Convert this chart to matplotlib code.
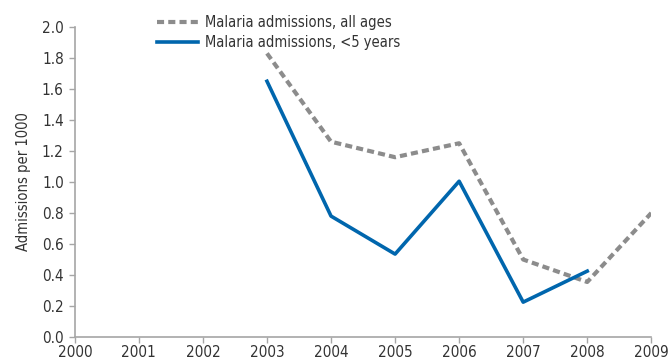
import matplotlib
matplotlib.use("Agg")
import matplotlib.pyplot as plt

years = [2000, 2001, 2002, 2003, 2004, 2005, 2006, 2007, 2008, 2009]
all_years = [2003, 2004, 2005, 2006, 2007, 2008, 2009]
all_ages = [1.83, 1.26, 1.16, 1.25, 0.50, 0.355, 0.80]
u5_years = [2003, 2004, 2005, 2006, 2007, 2008]
under5 = [1.65, 0.78, 0.535, 1.005, 0.225, 0.425]
yticks = [0.0, 0.2, 0.4, 0.6, 0.8, 1.0, 1.2, 1.4, 1.6, 1.8, 2.0]

plt.rcParams['font.family'] = ['DejaVu Sans']
plt.rcParams['font.stretch'] = 'condensed'

fig = plt.figure(figsize=(6.68, 3.63), dpi=100)
ax = fig.add_axes([0.112, 0.0716, 0.863, 0.854])

ax.plot(all_years, all_ages, color='#8c8c8c', lw=3, linestyle=(0, (1.7, 1.0)),
        label='Malaria admissions, all ages', dash_capstyle='butt')
ax.plot(u5_years, under5, color='#0066ad', lw=2.6, label='Malaria admissions, <5 years')

ax.set_xlim(2000, 2009)
ax.set_ylim(0, 2.0)
ax.set_xticks(years)
ax.set_xticklabels([str(y) for y in years])
ax.set_yticks(yticks)
ax.set_yticklabels([f'{v:.1f}' for v in yticks])
ax.set_ylabel('Admissions per 1000', fontsize=10.5, color='#333333', labelpad=8)

for s in ['top', 'right']:
    ax.spines[s].set_visible(False)
for s in ['left', 'bottom']:
    ax.spines[s].set_color('#a6a6a6')
    ax.spines[s].set_linewidth(1.2)
ax.tick_params(axis='both', colors='#a6a6a6', labelcolor='#333333', labelsize=11, length=4, width=1)
ax.tick_params(axis='y', pad=4)
ax.tick_params(axis='x', pad=2)

leg = fig.legend(loc='upper left', bbox_to_anchor=(0.226, 0.975), frameon=False, fontsize=10.5,
                 handlelength=2.8, handletextpad=0.5, labelspacing=0.35, borderaxespad=0)
for t in leg.get_texts():
    t.set_color('#333333')

fig.savefig('out.png', dpi=100)
